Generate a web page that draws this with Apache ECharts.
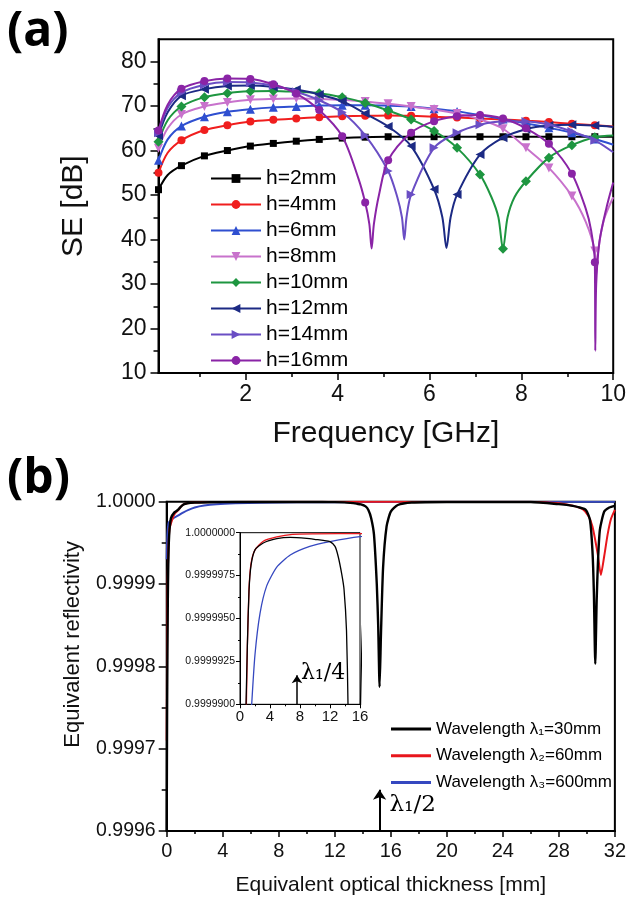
<!DOCTYPE html>
<html>
<head>
<meta charset="utf-8">
<script src="https://cdn.jsdelivr.net/npm/echarts@6.0.0/dist/echarts.min.js"></script>
<style>html,body{margin:0;padding:0;background:#fff;}#c{width:629px;height:897px;}</style>
</head>
<body>
<div id="c"></div>
<script>
// ---------- Panel (a): SE vs frequency ----------
const namesA = ['h=2mm','h=4mm','h=6mm','h=8mm','h=10mm','h=12mm','h=14mm','h=16mm'];
const h2 = [[0.1,51.2],[0.3,54.5],[0.6,56.6],[1.1,58.8],[1.6,60.0],[2.1,61.0],[2.6,61.6],[3.1,62.1],[3.6,62.5],[4.1,62.8],[4.6,63.0],[5.1,63.1],[5.6,63.1],[6.1,63.1],[6.6,63.1],[7.1,63.1],[7.6,63.1],[8.1,63.1],[8.6,63.1],[9.1,63.1],[9.6,63.1],[10,63.1]];
const h4 = [[0.1,55.0],[0.3,59.5],[0.6,62.3],[1.1,64.6],[1.6,65.7],[2.1,66.5],[2.6,66.9],[3.1,67.2],[3.6,67.5],[4.1,67.7],[4.6,67.8],[5.1,67.9],[5.6,67.8],[6.1,67.6],[6.6,67.4],[7.1,67.2],[7.6,67.0],[8.1,66.7],[8.6,66.4],[9.1,66.0],[9.6,65.7],[10,65.4]];
const h6 = [[0.1,57.8],[0.3,62.5],[0.6,65.5],[1.1,67.6],[1.6,68.7],[2.1,69.3],[2.6,69.7],[3.1,69.9],[3.6,70.1],[4.1,70.2],[4.6,70.2],[5.1,70.1],[5.6,69.9],[6.1,69.4],[6.6,68.8],[7.1,68.0],[7.6,67.1],[8.1,66.1],[8.6,65.1],[9.1,64.0],[9.6,62.6],[10,61.3]];
const h8 = [[0.1,60.5],[0.3,65.0],[0.6,68.1],[1.1,69.9],[1.6,70.8],[2.1,71.4],[2.6,71.6],[3.1,71.7],[3.6,71.6],[4.1,71.4],[4.6,71.0],[5.1,70.5],[5.6,69.9],[6.1,69.2],[6.6,68.3],[7.1,67.0],[7.6,64.9],[8.1,60.6],[8.6,56.1],[9.1,49.8],[9.4,44.0],[9.6,37.4],[9.63,32.0],[9.68,38.0],[9.8,44.5],[10,49.5]];
const h10 = [[0.1,62.0],[0.3,66.8],[0.6,69.9],[1.1,72.0],[1.6,72.9],[2.1,73.3],[2.6,73.4],[3.1,73.2],[3.6,72.9],[4.1,72.0],[4.6,70.7],[5.1,69.0],[5.6,67.0],[6.1,64.4],[6.6,60.6],[7.1,54.6],[7.35,49.5],[7.5,45.0],[7.6,37.9],[7.7,45.0],[7.85,49.5],[8.1,53.1],[8.6,58.4],[9.1,61.2],[9.6,63.0],[10,63.4]];
const h12 = [[0.1,63.3],[0.3,68.6],[0.6,72.3],[1.1,73.8],[1.6,74.5],[2.1,74.6],[2.6,74.3],[3.1,73.7],[3.6,72.6],[4.1,71.1],[4.6,68.3],[5.1,65.4],[5.6,61.0],[6.1,51.3],[6.28,45.0],[6.37,38.1],[6.46,45.0],[6.6,50.1],[7.1,59.1],[7.6,62.9],[8.1,64.8],[8.6,65.6],[9.1,65.8],[9.6,65.6],[10,65.3]];
const h14 = [[0.1,64.0],[0.3,69.6],[0.6,73.0],[1.1,74.8],[1.6,75.4],[2.1,75.3],[2.6,74.6],[3.1,73.2],[3.6,71.3],[4.1,68.6],[4.6,63.4],[5.1,55.4],[5.3,49.5],[5.4,45.0],[5.45,40.0],[5.5,45.0],[5.6,50.1],[6.1,60.6],[6.6,64.0],[7.1,65.8],[7.6,66.5],[8.1,66.5],[8.6,65.8],[9.1,64.3],[9.6,62.3],[10,59.6]];
const h16 = [[0.1,64.5],[0.3,70.3],[0.6,73.9],[1.1,75.6],[1.6,76.2],[2.1,76.1],[2.6,74.9],[3.1,72.8],[3.6,69.1],[4.1,63.2],[4.45,53.8],[4.6,48.3],[4.69,43.5],[4.74,38.0],[4.79,43.5],[4.9,50.0],[5.1,57.8],[5.6,64.0],[6.1,66.6],[6.6,67.7],[7.1,68.0],[7.6,67.2],[8.1,65.0],[8.6,61.5],[9.1,54.8],[9.4,47.0],[9.52,42.0],[9.6,34.9],[9.61,15.0],[9.63,30.0],[9.7,39.5],[9.85,47.0],[10,52.8]];
const xTicksA = [2,4,6,8,10];
const xMinorA = [1,3,5,7,9];
const yTicksA = [10,20,30,40,50,60,70,80];
const yMinorA = [15,25,35,45,55,65,75];

// ---------- Panel (b): equivalent reflectivity ----------
const namesB = ['Wavelength λ\u2081=30mm','Wavelength λ\u2082=60mm','Wavelength λ\u2083=600mm'];
const lam1 = [[0,0.9996],[0.03,0.99975],[0.08,0.99988],[0.15,0.99995],[0.3,0.99998],[0.55,0.999987],[0.8,0.99999],[0.98,0.9999934],[1.2,0.9999966],[1.47,0.9999981],[2.0,0.999999],[3.1,0.9999994],[4.9,0.99999965],[6.7,0.99999973],[8.9,0.99999967],[10.2,0.9999996],[11.1,0.99999955],[12.0,0.99999948],[12.67,0.9999992],[13.1,0.9999986],[13.56,0.9999976],[13.87,0.9999967],[14.2,0.9999943],[14.4,0.99999],[14.6,0.99998],[14.8,0.99996],[15.0,0.9999],[15.1,0.99985],[15.2,0.999775],[15.3,0.99984],[15.45,0.99992],[15.7,0.99997],[16.0,0.999988],[16.5,0.999996],[17.5,0.999999],[20,0.9999997],[26,0.9999996],[28,0.999997],[29.0,0.999995],[29.46,0.999993],[29.93,0.99999],[30.22,0.999978],[30.4,0.99994],[30.5,0.99989],[30.6,0.999803],[30.7,0.99988],[30.8,0.99993],[30.93,0.999966],[31.24,0.999988],[31.6,0.999993],[32,0.999995]];
const lam2 = [[0,0.99971],[0.03,0.99983],[0.07,0.999905],[0.19,0.999966],[0.43,0.99998],[0.6,0.999986],[0.85,0.99999],[0.98,0.9999934],[1.2,0.9999967],[1.47,0.9999982],[2.0,0.999999],[3.1,0.9999995],[4.9,0.99999975],[7,0.9999999],[10,0.99999993],[16,0.99999995],[22,0.99999995],[26,0.9999998],[28,0.999998],[29.0,0.999995],[29.7,0.999991],[30.1,0.999983],[30.4,0.99997],[30.77,0.999937],[31.0,0.999911],[31.24,0.999934],[31.48,0.99996],[31.72,0.999979],[32,0.99999]];
const lam3 = [[0,0.99993],[0.05,0.99996],[0.15,0.999975],[0.4,0.999979],[0.8,0.999983],[1.2,0.999987],[1.56,0.99999],[2.0,0.9999929],[2.67,0.9999953],[3.56,0.9999969],[4.9,0.999998],[6.7,0.9999987],[9.3,0.9999992],[12,0.99999948],[16,0.99999977],[20,0.9999999],[32,0.99999995]];
const arrowHalf = [15.2, 0.9996, 0.99965];      // lambda1/2 arrow: x, from, to
const arrowQuarter = [7.6, 0.99999, 0.9999917]; // lambda1/4 arrow in inset
const labelHalf = 'λ\u2081/2';
const labelQuarter = 'λ\u2081/4';

const FONT = 'Liberation Sans, Arial, sans-serif';
const colorsA = ['#000000','#f01e1e','#2f4fd0','#c872cc','#1e9640','#1c2a84','#6a4ec4','#8a24a6'];
const symbolsA = ['rect','circle','triangle','path://M0,0L10,0L5,9Z','diamond','path://M9,0L9,10L0,5Z','path://M0,0L0,10L9,5Z','circle'];
const sizesA = [7,8,9,9,10,9,9,8];
const dataA = [h2,h4,h6,h8,h10,h12,h14,h16];
const colorsB = ['#000000','#e8161c','#3548c0'];
const dataB = [lam1,lam2,lam3];

function isMarker(x){ const k=(x-0.1)/0.5; return Math.abs(k-Math.round(k))<1e-6 && x<9.9; }

const seriesA = dataA.map((d,i)=>({
  name: namesA[i], type:'line', xAxisIndex:0, yAxisIndex:0,
  smooth:0.3, showAllSymbol:true, symbol:symbolsA[i], symbolSize:sizesA[i], symbolKeepAspect:false,
  color: colorsA[i], lineStyle:{width:2, color:colorsA[i]}, itemStyle:{color:colorsA[i]},
  data: d.map(p=> isMarker(p[0]) ? {value:p} : {value:p, symbol:'none'}),
  animation:false, z: 2+i
}));

const seriesB = [];
dataB.forEach((d,i)=>{
  seriesB.push({name:namesB[i], type:'line', xAxisIndex:2, yAxisIndex:2, smooth:0.2, symbol:'none', showSymbol:false,
    color:colorsB[i], lineStyle:{width: i===0?2.4:2, color:colorsB[i]}, data:d, animation:false, clip:true, z: 5-i});
  seriesB.push({name:namesB[i], type:'line', xAxisIndex:3, yAxisIndex:3, smooth:0.2, symbol:'none', showSymbol:false,
    color:colorsB[i], lineStyle:{width:1.3, color:colorsB[i]}, data:d, animation:false, clip:true, z: 5-i});
});
// arrows and labels
seriesB[0].markLine = {silent:true, animation:false, symbol:['none','arrow'], symbolSize:10,
  lineStyle:{color:'#000', width:2, type:'solid'}, label:{show:false},
  data:[[{coord:[arrowHalf[0],arrowHalf[1]]},{coord:[arrowHalf[0],arrowHalf[2]]}]]};
seriesB[0].markPoint = {silent:true, animation:false, symbol:'circle', symbolSize:0,
  label:{show:true, position:'right', distance:10, formatter:labelHalf, color:'#000', fontSize:23, fontFamily:'DejaVu Serif, serif'},
  data:[{coord:[arrowHalf[0], 0.999632]}]};
seriesB[1].markLine = {silent:true, animation:false, symbol:['none','arrow'], symbolSize:8,
  lineStyle:{color:'#000', width:1.5, type:'solid'}, label:{show:false},
  data:[[{coord:[arrowQuarter[0],arrowQuarter[1]]},{coord:[arrowQuarter[0],arrowQuarter[2]]}]]};
seriesB[1].markPoint = {silent:true, animation:false, symbol:'circle', symbolSize:0,
  label:{show:true, position:'right', distance:4, formatter:labelQuarter, color:'#000', fontSize:22, fontFamily:'DejaVu Serif, serif'},
  data:[{coord:[arrowQuarter[0], 0.9999918]}]};

const axisLine = w => ({show:true, onZero:false, lineStyle:{color:'#000', width:w}});

const option = {
  backgroundColor:'#fff',
  animation:false,
  title:[
    {text:'(a)', left:7, top:8, padding:0, textStyle:{fontSize:48, fontWeight:'bold', fontFamily:'Open Sans, Noto Sans, sans-serif', color:'#000'}},
    {text:'(b)', left:7, top:455, padding:0, textStyle:{fontSize:48, fontWeight:'bold', fontFamily:'Open Sans, Noto Sans, sans-serif', color:'#000'}}
  ],
  legend:[
    {data:namesA, orient:'vertical', left:205, top:163, itemWidth:50, itemHeight:11, itemGap:5, selectedMode:false,
     textStyle:{fontSize:21, lineHeight:21, fontFamily:FONT, color:'#000'}},
    {data:namesB, orient:'vertical', left:386, top:714, itemWidth:40, itemHeight:3, itemGap:6.7, selectedMode:false, icon:'rect',
     textStyle:{fontSize:17, lineHeight:20, fontFamily:FONT, color:'#000'}}
  ],
  grid:[
    {left:158.5, right:15.7, top:39.3, height:333.7, show:true, borderColor:'#000', borderWidth:2, backgroundColor:'transparent'},
    {left:166.7, right:13.3, top:501.7, height:330, show:true, borderColor:'#000', borderWidth:2, backgroundColor:'transparent'},
    {left:240, width:120, top:532.7, height:171.6, show:true, borderColor:'#000', borderWidth:1, backgroundColor:'#fff'}
  ],
  xAxis:[
    {gridIndex:0, type:'value', position:'bottom', min:0.1, max:10, axisLine:axisLine(2), splitLine:{show:false},
     axisTick:{show:true, length:7, customValues:xTicksA, lineStyle:{color:'#000', width:1.5}},
     axisLabel:{customValues:xTicksA, fontSize:23, fontFamily:FONT, color:'#111', margin:10},
     name:'Frequency [GHz]', nameLocation:'middle', nameGap:46, nameTextStyle:{fontSize:30, fontFamily:FONT, color:'#111'}},
    {gridIndex:0, type:'value', position:'bottom', min:0.1, max:10, axisLine:{show:false}, splitLine:{show:false},
     axisTick:{show:true, length:4, customValues:xMinorA, lineStyle:{color:'#000', width:1.5}},
     axisLabel:{show:false}},
    {gridIndex:1, type:'value', position:'bottom', min:0, max:32, interval:4, axisLine:axisLine(2), splitLine:{show:false},
     axisTick:{show:true, length:6, lineStyle:{color:'#000', width:1.5}},
     minorTick:{show:true, splitNumber:2, length:3, lineStyle:{color:'#000', width:1.5}},
     axisLabel:{fontSize:20, fontFamily:FONT, color:'#111', margin:10},
     name:'Equivalent optical thickness [mm]', nameLocation:'middle', nameGap:44, nameTextStyle:{fontSize:21, fontFamily:FONT, color:'#111'}},
    {gridIndex:2, type:'value', position:'bottom', min:0, max:16, interval:4, axisLine:axisLine(1), splitLine:{show:false},
     axisTick:{show:true, length:4, lineStyle:{color:'#000'}},
     minorTick:{show:true, splitNumber:2, length:2, lineStyle:{color:'#000'}},
     axisLabel:{fontSize:15, fontFamily:FONT, color:'#111', margin:5}}
  ],
  yAxis:[
    {gridIndex:0, type:'value', position:'left', min:10, max:85, axisLine:axisLine(2), splitLine:{show:false},
     axisTick:{show:true, length:8, customValues:yTicksA, lineStyle:{color:'#000', width:1.5}},
     axisLabel:{customValues:yTicksA, fontSize:23, fontFamily:FONT, color:'#111', margin:12},
     name:'SE [dB]', nameLocation:'middle', nameGap:70, nameTextStyle:{fontSize:30, fontFamily:FONT, color:'#111'}},
    {gridIndex:0, type:'value', position:'left', min:10, max:85, axisLine:{show:false}, splitLine:{show:false},
     axisTick:{show:true, length:5, customValues:yMinorA, lineStyle:{color:'#000', width:1.5}},
     axisLabel:{show:false}},
    {gridIndex:1, type:'value', position:'left', min:0.9996, max:1.0, interval:0.0001, axisLine:axisLine(2), splitLine:{show:false},
     axisTick:{show:true, length:8, lineStyle:{color:'#000', width:1.5}},
     minorTick:{show:true, splitNumber:2, length:5, lineStyle:{color:'#000', width:1.5}},
     axisLabel:{fontSize:19.5, fontFamily:FONT, color:'#111', margin:11, formatter:v=>v.toFixed(4)},
     name:'Equivalent reflectivity', nameLocation:'middle', nameGap:83, nameTextStyle:{fontSize:22, fontFamily:FONT, color:'#111', padding:[0,0,0,44]}},
    {gridIndex:2, type:'value', position:'left', min:0.99999, max:1.0, interval:0.0000025, axisLine:axisLine(1), splitLine:{show:false},
     axisTick:{show:true, length:4, lineStyle:{color:'#000'}},
     minorTick:{show:true, splitNumber:2, length:2, lineStyle:{color:'#000'}},
     axisLabel:{fontSize:10.5, fontFamily:FONT, color:'#111', margin:5, formatter:v=>v.toFixed(7)}}
  ],
  series: seriesA.concat(seriesB)
};
const chart = echarts.init(document.getElementById('c'), null, {renderer:'canvas'});
chart.setOption(option);
</script>
</body>
</html>
